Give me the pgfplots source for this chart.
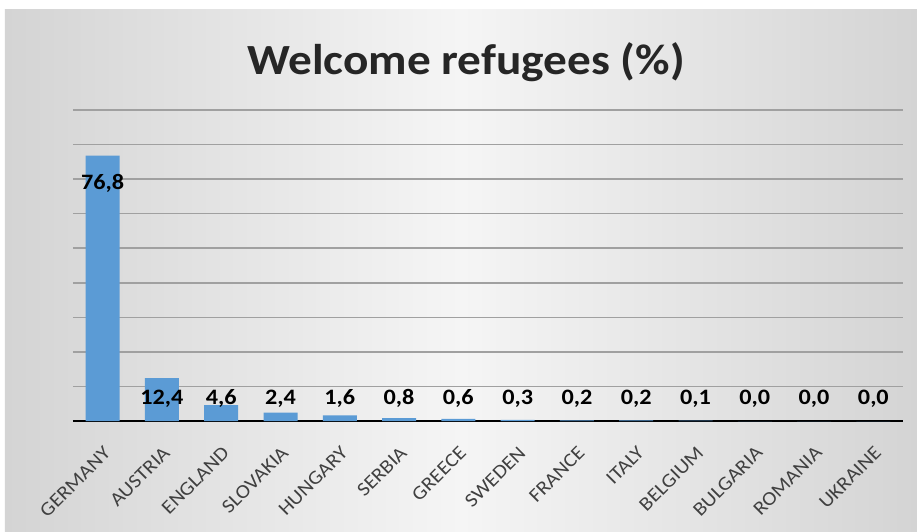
\documentclass[border=0pt]{standalone}
\usepackage{pgfplots}
\pgfplotsset{compat=1.18}
\usepackage{fontspec}
\setmainfont{Carlito}[FakeStretch=1.1]
\definecolor{barblue}{RGB}{91,155,213}
\definecolor{edgegray}{RGB}{212,212,212}
\definecolor{midgray}{RGB}{245,245,245}
\definecolor{gridgray}{RGB}{160,160,160}
\definecolor{labelgray}{RGB}{64,64,64}
\definecolor{titlegray}{RGB}{38,38,38}

\begin{document}
\begin{tikzpicture}
\useasboundingbox (-73pt,-110pt) rectangle (844pt,421pt);
\fill[white] (-73pt,-110pt) rectangle (844pt,421pt);
\shade[left color=edgegray, right color=edgegray, middle color=midgray] (-68pt,-110pt) rectangle (844pt,411pt);
\begin{axis}[
    at={(0,0)}, anchor=south west,
    scale only axis, width=830pt, height=311pt,
    xmin=-0.5, xmax=13.5, ymin=0, ymax=90,
    xtick={0,...,13},
    xticklabels={GERMANY,AUSTRIA,ENGLAND,SLOVAKIA,HUNGARY,SERBIA,GREECE,SWEDEN,FRANCE,ITALY,BELGIUM,BULGARIA,ROMANIA,UKRAINE},
    xticklabel style={rotate=45, anchor=north east, font=\fontsize{19.5}{19.5}\selectfont, text=labelgray, inner sep=0pt},
    xticklabel shift=24pt,
    ytick={10,20,...,90}, yticklabels={},
    major tick length=0pt,
    ymajorgrids, grid style={gridgray, line width=1.5pt},
    extra y ticks={0}, extra y tick labels={},
    extra y tick style={grid style={black, line width=2.5pt}},
    axis line style={draw=none},
    clip=false,
]
\addplot[ybar, bar width=34pt, fill=barblue, draw=none] coordinates {
(0,76.8) (1,12.4) (2,4.6) (3,2.4) (4,1.6) (5,0.8) (6,0.6)
(7,0.3) (8,0.2) (9,0.2) (10,0.1) (11,0.0) (12,0.0) (13,0.0)
};
% value labels: Excel put them at the inside end of the bar, or just above it
\addplot[only marks, mark=*, mark size=0pt, mark options={draw=none, fill=none},
    nodes near coords, point meta=explicit symbolic,
    every node near coord/.style={anchor=base, inner sep=0pt,
        font=\bfseries\fontsize{22}{22}\selectfont, text=black}]
    table[meta=lab] {
x y lab
0 67 76,8
1 4.64 12,4
2 4.64 4,6
3 4.64 2,4
4 4.64 1,6
5 4.64 0,8
6 4.64 0,6
7 4.64 0,3
8 4.64 0,2
9 4.64 0,2
10 4.64 0,1
11 4.64 0,0
12 4.64 0,0
13 4.64 0,0
};
\end{axis}
\node[font=\bfseries\fontsize{43}{43}\selectfont, text=titlegray] at (393pt,359pt) {Welcome refugees (\%)};
\end{tikzpicture}
\end{document}
